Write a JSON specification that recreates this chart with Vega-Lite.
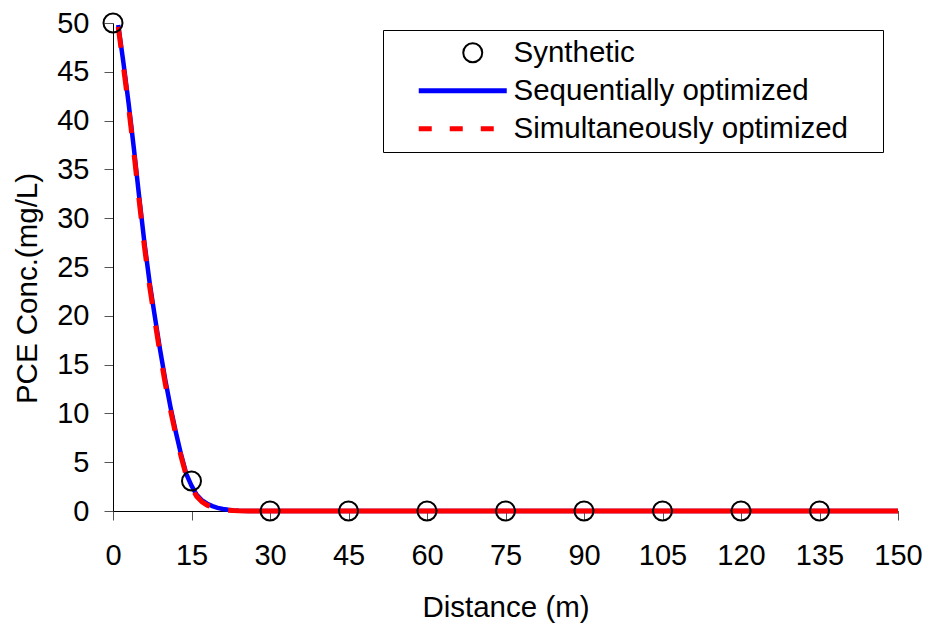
{
  "$schema": "https://vega.github.io/schema/vega-lite/v6.json",
  "width": 785,
  "height": 488,
  "autosize": "none",
  "padding": {"left": 113, "top": 23, "right": 28, "bottom": 112},
  "background": "white",
  "config": {"view": {"stroke": null}, "font": "Liberation Sans"},
  "data": {
    "values": [
      {"series": "Synthetic", "x": 0, "y": 50},
      {"series": "Synthetic", "x": 15, "y": 3.07},
      {"series": "Synthetic", "x": 30, "y": 0},
      {"series": "Synthetic", "x": 45, "y": 0},
      {"series": "Synthetic", "x": 60, "y": 0},
      {"series": "Synthetic", "x": 75, "y": 0},
      {"series": "Synthetic", "x": 90, "y": 0},
      {"series": "Synthetic", "x": 105, "y": 0},
      {"series": "Synthetic", "x": 120, "y": 0},
      {"series": "Synthetic", "x": 135, "y": 0},
      {"series": "Sequentially optimized", "x": 1, "y": 49.8},
      {"series": "Sequentially optimized", "x": 2, "y": 45.9},
      {"series": "Sequentially optimized", "x": 3, "y": 41.7},
      {"series": "Sequentially optimized", "x": 4, "y": 37.1},
      {"series": "Sequentially optimized", "x": 5, "y": 32.2},
      {"series": "Sequentially optimized", "x": 6, "y": 27.5},
      {"series": "Sequentially optimized", "x": 7, "y": 23.4},
      {"series": "Sequentially optimized", "x": 8, "y": 19.9},
      {"series": "Sequentially optimized", "x": 9, "y": 16.5},
      {"series": "Sequentially optimized", "x": 10, "y": 13.4},
      {"series": "Sequentially optimized", "x": 11, "y": 10.6},
      {"series": "Sequentially optimized", "x": 12, "y": 8.1},
      {"series": "Sequentially optimized", "x": 13, "y": 5.8},
      {"series": "Sequentially optimized", "x": 14, "y": 3.8},
      {"series": "Sequentially optimized", "x": 15, "y": 2.6},
      {"series": "Sequentially optimized", "x": 16, "y": 1.65},
      {"series": "Sequentially optimized", "x": 17, "y": 1.1},
      {"series": "Sequentially optimized", "x": 18, "y": 0.75},
      {"series": "Sequentially optimized", "x": 19, "y": 0.5},
      {"series": "Sequentially optimized", "x": 20, "y": 0.32},
      {"series": "Sequentially optimized", "x": 21, "y": 0.2},
      {"series": "Sequentially optimized", "x": 22, "y": 0.12},
      {"series": "Sequentially optimized", "x": 23, "y": 0.06},
      {"series": "Sequentially optimized", "x": 24, "y": 0.03},
      {"series": "Sequentially optimized", "x": 26, "y": 0.01},
      {"series": "Sequentially optimized", "x": 30, "y": 0},
      {"series": "Sequentially optimized", "x": 150, "y": 0},
      {"series": "Simultaneously optimized", "x": 1, "y": 49.6},
      {"series": "Simultaneously optimized", "x": 2, "y": 45.5},
      {"series": "Simultaneously optimized", "x": 3, "y": 41.3},
      {"series": "Simultaneously optimized", "x": 4, "y": 36.7},
      {"series": "Simultaneously optimized", "x": 5, "y": 31.8},
      {"series": "Simultaneously optimized", "x": 6, "y": 27.1},
      {"series": "Simultaneously optimized", "x": 7, "y": 23.0},
      {"series": "Simultaneously optimized", "x": 8, "y": 19.5},
      {"series": "Simultaneously optimized", "x": 9, "y": 16.1},
      {"series": "Simultaneously optimized", "x": 10, "y": 13.0},
      {"series": "Simultaneously optimized", "x": 11, "y": 10.3},
      {"series": "Simultaneously optimized", "x": 12, "y": 7.8},
      {"series": "Simultaneously optimized", "x": 13, "y": 5.6},
      {"series": "Simultaneously optimized", "x": 14, "y": 3.6},
      {"series": "Simultaneously optimized", "x": 15, "y": 2.4},
      {"series": "Simultaneously optimized", "x": 16, "y": 1.5},
      {"series": "Simultaneously optimized", "x": 17, "y": 0.95},
      {"series": "Simultaneously optimized", "x": 18, "y": 0.6},
      {"series": "Simultaneously optimized", "x": 19, "y": 0.4},
      {"series": "Simultaneously optimized", "x": 20, "y": 0.25},
      {"series": "Simultaneously optimized", "x": 21, "y": 0.15},
      {"series": "Simultaneously optimized", "x": 22, "y": 0.08},
      {"series": "Simultaneously optimized", "x": 23, "y": 0.04},
      {"series": "Simultaneously optimized", "x": 24, "y": 0.02},
      {"series": "Simultaneously optimized", "x": 26, "y": 0.005},
      {"series": "Simultaneously optimized", "x": 30, "y": 0},
      {"series": "Simultaneously optimized", "x": 150, "y": 0}
    ]
  },
  "encoding": {
    "x": {
      "field": "x",
      "type": "quantitative",
      "scale": {"domain": [0, 150], "nice": false, "zero": false},
      "axis": {
        "title": "Distance (m)",
        "values": [0, 15, 30, 45, 60, 75, 90, 105, 120, 135, 150],
        "grid": false,
        "domainColor": "black",
        "domainWidth": 1,
        "tickColor": "#555555",
        "tickSize": 9,
        "tickWidth": 1,
        "labelFontSize": 29,
        "labelColor": "black",
        "labelPadding": 21,
        "labelFlush": false,
        "labelOverlap": false,
        "titleFontSize": 29.5,
        "titleFontWeight": "normal",
        "titleColor": "black",
        "titleY": 105,
        "titleBaseline": "alphabetic"
      }
    },
    "y": {
      "field": "y",
      "type": "quantitative",
      "scale": {"domain": [0, 50], "nice": false, "zero": false},
      "axis": {
        "title": "PCE Conc.(mg/L)",
        "values": [0, 5, 10, 15, 20, 25, 30, 35, 40, 45, 50],
        "grid": false,
        "domainColor": "black",
        "domainWidth": 1,
        "tickColor": "#555555",
        "tickSize": 9,
        "tickWidth": 1,
        "labelFontSize": 29,
        "labelColor": "black",
        "labelPadding": 15,
        "labelFlush": false,
        "labelOverlap": false,
        "titleFontSize": 29.5,
        "titleFontWeight": "normal",
        "titleColor": "black",
        "titleX": -77,
        "titleY": 265,
        "titleBaseline": "alphabetic"
      }
    },
    "color": {
      "field": "series",
      "type": "nominal",
      "scale": {
        "domain": ["Synthetic", "Sequentially optimized", "Simultaneously optimized"],
        "range": ["black", "blue", "red"]
      },
      "legend": {
        "title": ".",
        "titleOrient": "right",
        "titleFontSize": 8,
        "titleOpacity": 0,
        "titlePadding": 24,
        "orient": "none",
        "legendX": 270,
        "legendY": 7,
        "padding": 8,
        "strokeColor": "black",
        "labelFontSize": 29.5,
        "labelColor": "black",
        "labelLimit": 0,
        "labelOffset": 93,
        "rowPadding": 7,
        "symbolSize": 400,
        "encode": {
          "symbols": {
            "update": {
              "shape": {"signal": "datum.value === 'Synthetic' ? 'M7.65,0A0.95,0.95,0,1,1,5.75,0A0.95,0.95,0,1,1,7.65,0Z' : 'M1.3,0H10.1'"},
              "strokeDash": {"signal": "datum.value === 'Simultaneously optimized' ? [13,18] : []"},
              "stroke": {"signal": "datum.value === 'Synthetic' ? 'black' : (datum.value === 'Sequentially optimized' ? 'blue' : 'red')"},
              "strokeWidth": {"signal": "datum.value === 'Synthetic' ? 2 : 5"},
              "fill": {"value": "transparent"},
              "size": {"value": 400},
              "opacity": {"value": 1}
            }
          }
        }
      }
    }
  },
  "layer": [
    {
      "transform": [{"filter": "datum.series === 'Sequentially optimized'"}],
      "mark": {"type": "line", "strokeWidth": 4.5}
    },
    {
      "transform": [{"filter": "datum.series === 'Simultaneously optimized' && datum.x <= 22"}],
      "mark": {"type": "line", "strokeWidth": 5, "strokeDash": [21, 22]}
    },
    {
      "transform": [{"filter": "datum.series === 'Simultaneously optimized' && datum.x >= 22"}],
      "mark": {"type": "line", "strokeWidth": 5}
    },
    {
      "transform": [{"filter": "datum.series === 'Synthetic'"}],
      "mark": {"type": "point", "shape": "circle", "filled": false, "size": 361, "strokeWidth": 2, "opacity": 1}
    }
  ]
}
